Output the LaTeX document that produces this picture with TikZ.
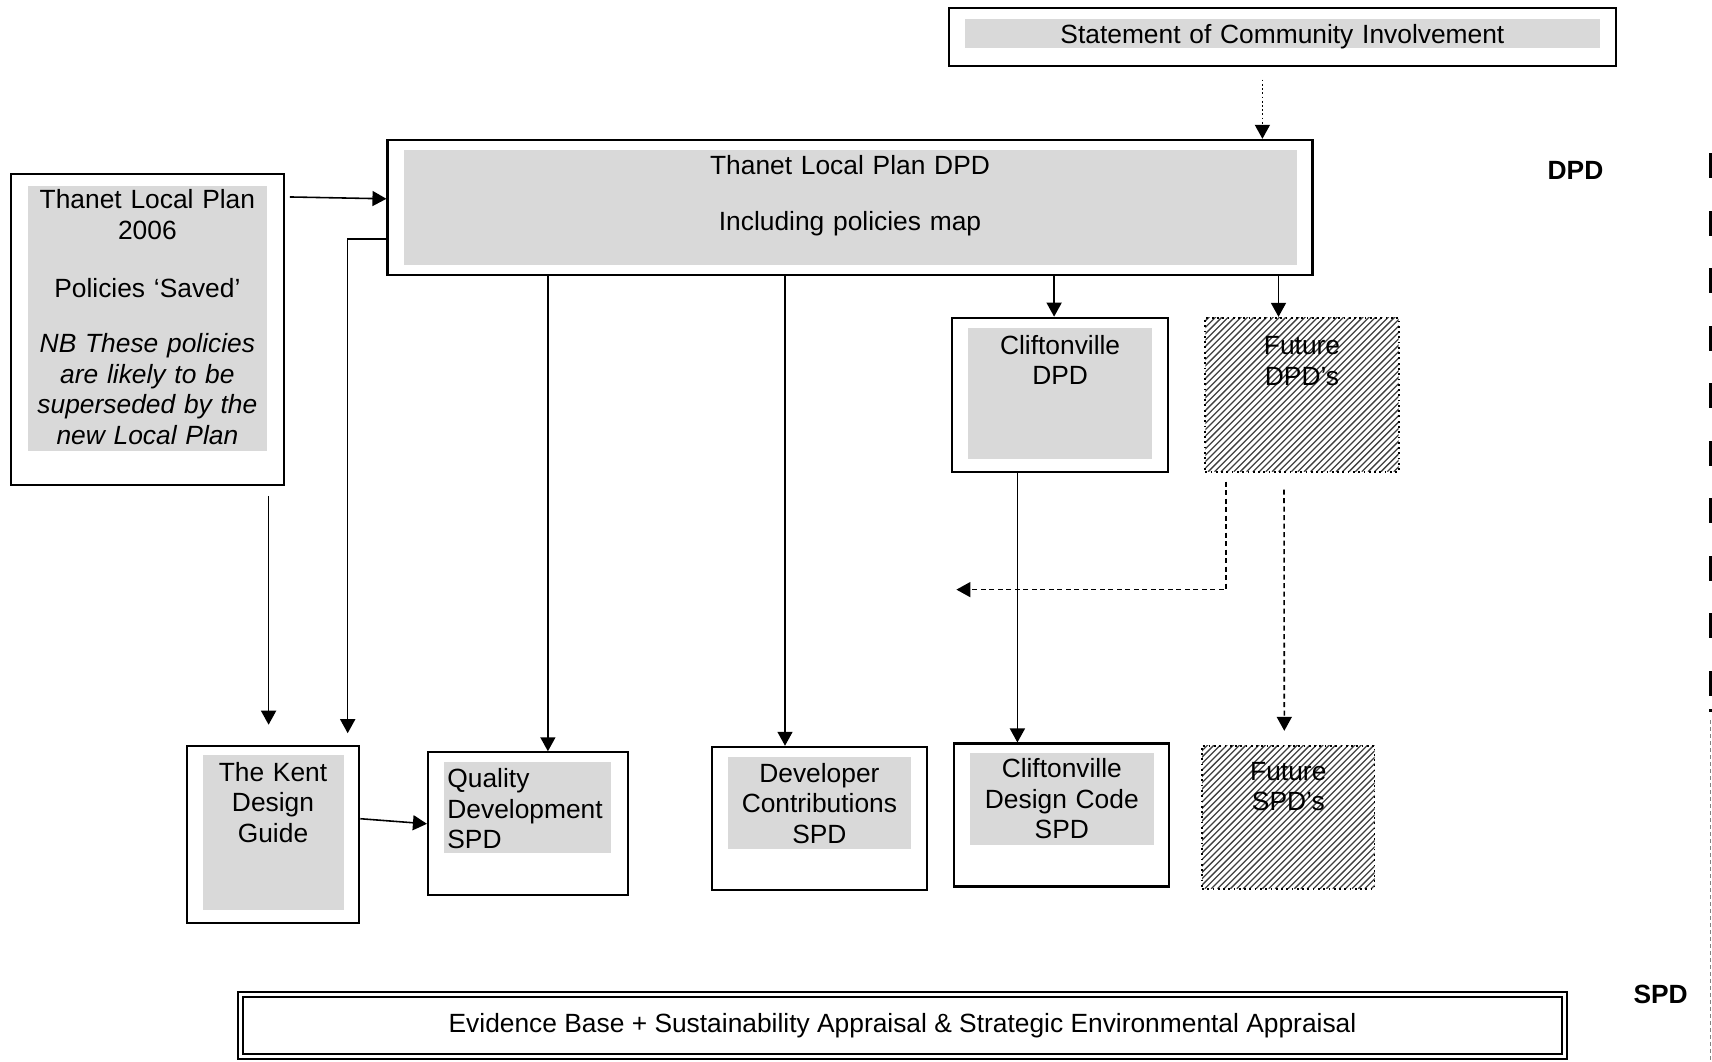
\documentclass[tikz,border=0pt]{standalone}
\usepackage{fontspec}
\setmainfont{Liberation Sans}
\usepackage{tikz}
\usetikzlibrary{positioning, arrows.meta}
\definecolor{boxgrey}{RGB}{217,217,217}
\tikzstyle{outerbox} = [rectangle, draw=black, line width=0.6pt, inner sep=0pt]
\tikzstyle{greybox} = [rectangle, fill=boxgrey, inner xsep=0.03cm, inner ysep=0pt, text height=0.25cm, align=center, anchor=north]
\tikzstyle{hatchbox} = [rectangle, draw=black, densely dotted, line width=0.5pt, inner xsep=0.03cm, inner ysep=0pt, align=center,
  path picture={\foreach \k in {0,...,58} \draw[solid, black!75, line width=0.013cm] ([xshift={-1.7cm+\k*0.064cm}]path picture bounding box.south west) -- ++(1.8cm,1.8cm);}]
\tikzstyle{arrow} = [line width=0.45pt, -{Triangle[length=0.14cm,width=0.15cm]}]
\tikzstyle{dasharrow} = [arrow, dash pattern=on 0.05cm off 0.035cm]
\tikzstyle{dotarrow} = [arrow, dash pattern=on 0.5pt off 0.7pt]

\begin{document}
\begin{tikzpicture}[font=\fontsize{7.5pt}{8.7pt}\selectfont]
\useasboundingbox (0,0) rectangle (17.12,-10.61);

% top row
\node (sci) [outerbox, minimum width=6.67cm, minimum height=0.58cm] at (12.824,-0.366) {};
\node (scitext) [greybox, text width=6.29cm, text height=0.245cm, text depth=0.045cm, below=0.114cm of sci.north] {Statement of Community Involvement};

\node (dpd) [outerbox, minimum width=9.25cm, minimum height=1.353cm] at (8.50,-2.075) {};
\node (dpdtext) [greybox, text width=8.87cm, text depth=0.9cm, below=0.102cm of dpd.north] {Thanet Local Plan DPD\\[0.254cm]Including policies map};

\node (tlp) [outerbox, minimum width=2.73cm, minimum height=3.112cm] at (1.474,-3.292) {};
\node (tlptext) [greybox, text width=2.33cm, text height=0.233cm, text depth=2.417cm, below=0.124cm of tlp.north] {Thanet Local Plan\\2006\\[0.27cm]Policies ‘Saved’\\[0.25cm]\itshape NB These policies\\are likely to be\\superseded by the\\new Local Plan};

\node (cliftdpd) [outerbox, minimum width=2.162cm, minimum height=1.54cm] at (10.601,-3.947) {};
\node (cliftdpdtext) [greybox, text width=1.786cm, text height=0.26cm, text depth=1.05cm, below=0.109cm of cliftdpd.north] {Cliftonville\\DPD};

\node (futdpd) [hatchbox, text width=1.873cm, text height=0.368cm, text depth=1.172cm] at (13.02,-3.947) {Future\\DPD's};

% bottom row
\node (kent) [outerbox, minimum width=1.725cm, minimum height=1.769cm] at (2.73,-8.342) {};
\node (kenttext) [greybox, text width=1.35cm, text height=0.26cm, text depth=1.29cm, below=0.098cm of kent.north] {The Kent\\Design\\Guide};

\node (quality) [outerbox, minimum width=1.998cm, minimum height=1.43cm] at (5.279,-8.238) {};
\node (qualitytext) [greybox, align=left, text width=1.61cm, text height=0.26cm, text depth=0.658cm, below=0.097cm of quality.north] {Quality\\Development\\SPD};

\node (devel) [outerbox, minimum width=2.152cm, minimum height=1.43cm] at (8.194,-8.183) {};
\node (develtext) [greybox, text width=1.775cm, text height=0.248cm, text depth=0.669cm, below=0.109cm of devel.north] {Developer\\Contributions\\SPD};

\node (cliftdc) [outerbox, minimum width=2.151cm, minimum height=1.43cm] at (10.618,-8.15) {};
\node (cliftdctext) [greybox, text width=1.774cm, text height=0.248cm, text depth=0.67cm, below=0.098cm of cliftdc.north] {Cliftonville\\Design Code\\SPD};

\node (futspd) [hatchbox, text width=1.666cm, text height=0.346cm, text depth=1.084cm] at (12.883,-8.172) {Future\\SPD's};

\node (evid) [outerbox, double, double distance=0.85pt, line width=0.55pt, minimum width=13.24cm, minimum height=0.622cm] at (9.025,-10.255) {Evidence Base + Sustainability Appraisal \& Strategic Environmental Appraisal};

\node (dpdlabel) at (15.755,-1.703) {\bfseries DPD};
\node (spdlabel) at (16.606,-9.946) {\bfseries SPD};

% connectors
\draw [dotarrow] ([xshift=-0.2cm,yshift=-0.13cm]sci.south) -- ([xshift=-0.2cm]sci.south |- dpd.north);
\draw [arrow] ([xshift=0.05cm,yshift=-0.244cm]tlp.north east) -- ([yshift=-0.6cm]dpd.north west);
\draw [arrow] ([yshift=-1.0cm]dpd.north west) -| ([xshift=0.747cm,yshift=0.115cm]kent.north);
\draw [arrow] ([xshift=-0.044cm,yshift=-0.1cm]kent.north |- tlp.south) -- ([xshift=-0.044cm,yshift=0.2cm]kent.north);
\draw [arrow] ([yshift=-0.74cm]kent.north east) -- (quality.west);
\draw [arrow] ([xshift=0.2cm]quality.north |- dpd.south) -- ([xshift=0.2cm]quality.north);
\draw [arrow] ([xshift=-0.344cm]devel.north |- dpd.south) -- ([xshift=-0.344cm]devel.north);
\draw [arrow] ([xshift=-0.06cm]cliftdpd.north |- dpd.south) -- ([xshift=-0.06cm]cliftdpd.north);
\draw [arrow] ([xshift=-0.235cm]futdpd.north |- dpd.south) -- ([xshift=-0.235cm]futdpd.north);
\draw [arrow] ([xshift=-0.427cm]cliftdpd.south) -- ([xshift=-0.427cm]cliftdpd.south |- cliftdc.north);

\coordinate (crossend) at (9.564,-5.896);
\draw [dasharrow] ([xshift=-0.76cm,yshift=-0.09cm]futdpd.south) |- (crossend);
\draw [dasharrow] ([xshift=-0.18cm,yshift=-0.17cm]futdpd.south) -- ([xshift=-0.04cm,yshift=0.14cm]futspd.north);

% marks on the right edge
\foreach \i in {0,...,9}
  \fill (17.09,{-1.53-0.575*\i}) rectangle ++(0.03,-0.25);
\fill (17.09,-7.09) rectangle ++(0.03,-0.03);
\draw [gray, line width=0.3pt, dash pattern=on 0.04cm off 0.03cm] (17.105,-7.2) -- (17.105,-10.61);
\end{tikzpicture}
\end{document}
